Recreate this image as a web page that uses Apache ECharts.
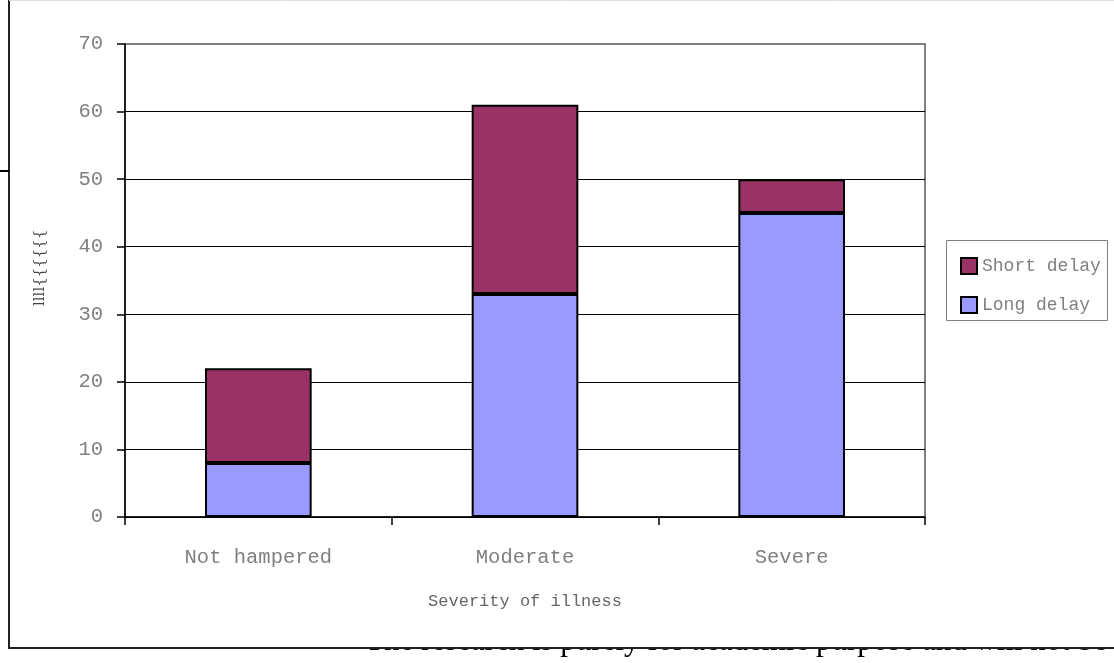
<!DOCTYPE html>
<html>
<head>
<meta charset="utf-8">
<script src="https://cdn.jsdelivr.net/npm/echarts@6/dist/echarts.min.js"></script>
<style>
  html, body { margin: 0; padding: 0; background: #fff; }
  #chart { width: 1114px; height: 663px; }
</style>
</head>
<body>
<div id="chart"></div>
<script>
// Patients by severity of illness, split by length of delay
const categories = ['Not hampered', 'Moderate', 'Severe'];
const longDelay = [8, 33, 45];
const shortDelay = [14, 28, 5];
const yTicks = { min: 0, max: 70, interval: 10 };
const xAxisTitle = 'Severity of illness';
const yAxisTitle = 'llll{{{{{{';
const footnote = 'The research is purely for academic purpose and will not be used for any other purpose';

const labelFont = '"Liberation Mono", "DejaVu Sans Mono", monospace';
const grey = '#808080';

// grid lines: black, except the top one which forms the gray plot frame
const nLines = (yTicks.max - yTicks.min) / yTicks.interval + 1;
const splitColors = [];
for (let i = 0; i < nLines; i++) splitColors.push(i === nLines - 1 ? grey : '#000');

const chart = echarts.init(document.getElementById('chart'), null, { renderer: 'canvas' });
chart.setOption({
  backgroundColor: '#fff',
  animation: false,
  grid: {
    left: 125, right: 189, top: 44, bottom: 146,
    show: true, borderColor: grey, borderWidth: 2, backgroundColor: 'transparent'
  },
  legend: {
    orient: 'vertical',
    left: 955, top: 251,
    data: ['Short delay', 'Long delay'],
    icon: 'rect',
    itemWidth: 16, itemHeight: 16, itemGap: 19,
    textStyle: { fontFamily: labelFont, fontSize: 18, color: grey, lineHeight: 20 }
  },
  xAxis: {
    type: 'category',
    data: categories,
    name: xAxisTitle,
    nameLocation: 'middle',
    nameGap: 76,
    nameTextStyle: { fontFamily: labelFont, fontSize: 17, color: '#666' },
    axisLine: { lineStyle: { color: '#000', width: 1.5 } },
    axisTick: { show: true, length: 8, lineStyle: { color: '#000', width: 1.5 } },
    axisLabel: { fontFamily: labelFont, fontSize: 20.5, color: grey, margin: 30 }
  },
  yAxis: {
    type: 'value',
    min: yTicks.min, max: yTicks.max, interval: yTicks.interval,
    axisLine: { show: true, lineStyle: { color: '#000', width: 1.5 } },
    axisTick: { show: true, length: 8, lineStyle: { color: '#000', width: 1.5 } },
    axisLabel: { fontFamily: labelFont, fontSize: 20.5, color: grey, margin: 22 },
    splitLine: { show: true, lineStyle: { color: splitColors, width: 1 } }
  },
  series: [
    {
      name: 'Long delay', type: 'bar', stack: 'delay', barWidth: '40%',
      data: longDelay,
      itemStyle: { color: '#9999FF', borderColor: '#000', borderWidth: 2 }
    },
    {
      name: 'Short delay', type: 'bar', stack: 'delay', barWidth: '40%',
      data: shortDelay,
      itemStyle: { color: '#993366', borderColor: '#000', borderWidth: 2 }
    }
  ],
  graphic: [
    // running text of the page below the chart frame
    {
      type: 'text', z: -10, left: 365, top: 651 - 25,
      style: { text: footnote, font: '31px "Liberation Serif", "Times New Roman", serif', fill: '#000' }
    },
    // chart frame background hides the text above it
    {
      type: 'rect', z: -5,
      shape: { x: 10, y: 0, width: 1104, height: 648 },
      style: { fill: '#fff' }
    },
    { type: 'line', z: 5, shape: { x1: 9, y1: 0, x2: 9, y2: 649 }, style: { stroke: '#222', lineWidth: 2 } },
    { type: 'line', z: 5, shape: { x1: 9, y1: 648, x2: 1114, y2: 648 }, style: { stroke: '#222', lineWidth: 2 } },
    { type: 'line', z: 5, shape: { x1: 9, y1: 0.5, x2: 1114, y2: 0.5 }, style: { stroke: '#ddd', lineWidth: 1 } },
    { type: 'line', z: 5, shape: { x1: 0, y1: 171, x2: 9, y2: 171 }, style: { stroke: '#000', lineWidth: 2 } },
    // legend frame
    {
      type: 'rect', z: 5,
      shape: { x: 946.5, y: 240.5, width: 161, height: 80 },
      style: { fill: 'none', stroke: grey, lineWidth: 1 }
    },
    // vertical axis title
    {
      type: 'text', z: 5, x: 33, y: 306, rotation: Math.PI / 2,
      style: { text: yAxisTitle, font: '15px "DejaVu Serif", serif', fill: '#444' }
    }
  ]
});
</script>
</body>
</html>
